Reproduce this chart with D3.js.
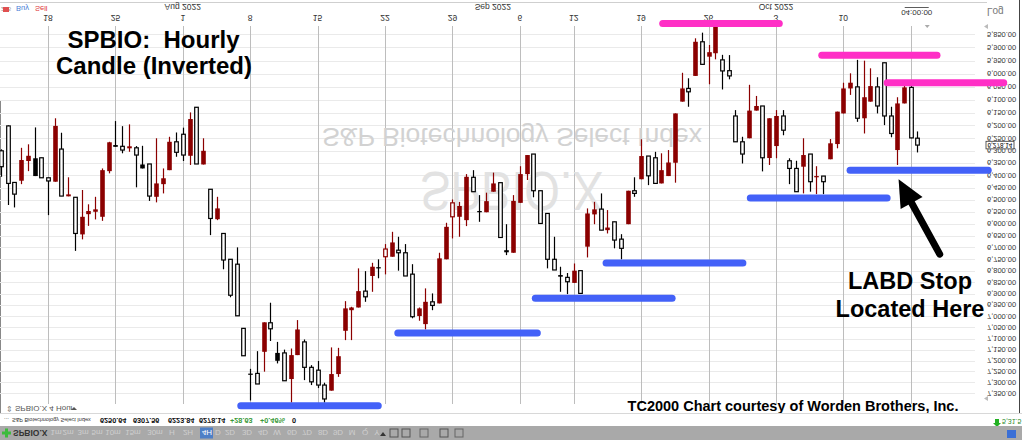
<!DOCTYPE html>
<html><head><meta charset="utf-8">
<script src="https://cdn.jsdelivr.net/npm/d3@7"></script>
<style>
body{margin:0;background:#fff;}
svg{display:block;font-family:"Liberation Sans",Arial,sans-serif;}
</style>
</head><body>
<svg id="c" width="1022" height="440"></svg>
<script>
// ---- data (4-hour candles, SPBIO, Jul 14 – Oct 17 2022) ----
const opens=[6301,6202,6429,6422,6342,6403,6329,6410,6426,6294,6486,6490,6645,6560,6550,6571,6383,6285,6283,6291,6289,6372,6354,6488,6436,6379,6265,6235,6321,6129,6356,6457,6581,6641,6751,6772,7054,7264,7259,7160,7029,7201,7165,7285,7175,7115,7231,7244,7313,7339,7262,7065,6973,6961,6889,6823,6789,6707,6740,6712,6723,6815,6999,7035,6936,6943,6751,6513,6571,6585,6408,6551,6552,6467,6430,6721,6723,6513,6395,6314,6463,6557,6751,6826,6829,6853,6800,6697,6561,6539,6627,6592,6665,6602,6463,6416,6322,6329,6433,6403,6349,6107,6056,6008,5879,5935,5922,5947,5988,6163,6265,6251,6142,6124,6330,6282,6163,6341,6372,6365,6314,6408,6403,6335,6274,6153,6056,6050,6172,6107,6050,5958,6163,6298,6114,6052,6250.64];
const highs=[6406,6522,6532,6436,6383,6403,6410,6564,6426,6485,6486,6715,6666,6609,6582,6588,6392,6285,6311,6305,6449,6372,6505,6511,6474,6379,6325,6342,6358,6354,6356,6648,6585,6794,6916,6998,7178,7385,7308,7251,7111,7213,7293,7395,7175,7290,7313,7327,7395,7339,7275,7107,7107,6961,6936,6892,6833,6816,6740,6800,6823,7009,7020,7059,6973,6943,6751,6662,6655,6610,6467,6592,6552,6467,6658,6733,6723,6513,6419,6490,6599,6790,6797,6892,6902,6853,6899,6743,6602,6627,6641,6704,6751,6602,6488,6416,6440,6433,6433,6403,6430,6107,6127,6008,5964,6040,5945,6060,6021,6265,6352,6251,6142,6384,6358,6331,6239,6436,6467,6474,6467,6477,6477,6335,6291,6153,6081,6186,6232,6107,6153,6199,6247,6358,6114,6251,6307.56];
const lows=[6295,6200,6429,6289,6275,6208,6329,6410,6172,6229,6408,6490,6460,6519,6488,6372,6265,6183,6203,6196,6282,6281,6354,6251,6372,6245,6228,6209,6149,6129,6251,6457,6488,6641,6751,6700,7054,7238,7157,7027,6940,7115,7150,7145,7017,7104,7221,7202,7302,7140,7142,6933,6958,6790,6802,6766,6751,6686,6634,6655,6686,6772,6961,6877,6899,6723,6596,6499,6509,6395,6379,6481,6471,6389,6430,6602,6481,6363,6318,6314,6463,6557,6655,6783,6810,6769,6800,6536,6509,6474,6543,6592,6644,6463,6408,6255,6322,6305,6311,6298,6153,5996,6017,5866,5845,5891,5816,5928,5929,6140,6245,6042,6085,6124,6172,6140,6140,6331,6341,6251,6314,6363,6403,6254,6146,6034,5998,5947,5950,5979,6013,5958,6127,6090,6036,6040,6223.84];
const closes=[6365,6433,6477,6338,6321,6331,6410,6423,6202,6485,6478,6641,6571,6547,6540,6379,6267,6278,6298,6283,6318,6356,6485,6433,6412,6265,6307,6318,6175,6354,6301,6578,6536,6754,6907,6998,7178,7260,7308,7027,7056,7165,7293,7175,7059,7231,7298,7313,7378,7262,7180,6965,6961,6889,6914,6783,6785,6740,6679,6723,6823,7002,6965,6936,6952,6747,6613,6571,6526,6406,6467,6547,6506,6433,6658,6712,6505,6395,6318,6463,6599,6751,6797,6819,6848,6800,6899,6557,6540,6627,6616,6669,6704,6463,6474,6322,6402,6433,6379,6348,6153,6056,6069,5879,5964,5918,5823,5989,6008,6265,6314,6142,6124,6329,6172,6163,6219,6372,6467,6318,6426,6403,6426,6271,6146,6056,6034,6172,6090,6047,6124,6163,6232,6114,6052,6249.51,6278.14];

const dayTickIdx=[7,17,27,37,47,57,67,77,85,95,105,115,125];
const dayTickLabels=["18","25","1","8","15","22","29","6","12","19","26","3","10"];
const monthIdx=[27,73,115];
const monthLabels=["Aug 2022","Sep 2022","Oct 2022"];
const cursorIdx=135, cursorLabel="04:00:00";
const priceTicks=d3.range(5850,7351,50);

// support (blue) and resistance (pink) levels: price, from index, to index
const blueLevels=[7410,7075,6920,6767,6493,6379];
const blueFrom=[35.6,58.9,79.3,89.8,111.2,126];
const blueTo=[56,79.6,99.6,110.1,131.5,146.5];
const pinkLevels=[5811,5930,6034];
const pinkFrom=[98.2,121.8,131.5];
const pinkTo=[115.5,138.9,148.8];
const arrowTip=[133.2,6416], arrowTail=[139.3,6729];

const infoValues=["6250.64","6307.56","6223.84","6278.14","+28.63","+0.46%","0"];
const intervals=["1m","2m","3m","5m","10m","15m","30m","H","2H","4H","D","2D","3D","4D","W","6D","7D","8D","9D","M","Q","Y"];

// ---- scales ----
const svg=d3.select("#c");
const x=d3.scaleLinear().domain([0,opens.length-1]).range([0.82,917.46]);
const y=d3.scaleLog().domain([5850,7350]).range([34,393]);
const PLOT_R=975;

function ftext(g,px,py,str){ // vertically flipped text (chart is inverted)
  return g.append("text").attr("transform",`translate(${px},${py}) scale(1,-1)`).text(str);
}

// borders
svg.append("line").attr("x1",0).attr("x2",987).attr("y1",2.5).attr("y2",2.5).attr("stroke","#cfcfcf");
svg.append("line").attr("x1",1019.5).attr("x2",1019.5).attr("y1",0).attr("y2",414).attr("stroke","#444");
svg.append("line").attr("x1",0.5).attr("x2",0.5).attr("y1",100).attr("y2",413).attr("stroke","#888");

// horizontal grid
svg.append("g").selectAll("line").data(priceTicks).join("line")
  .attr("x1",0).attr("x2",PLOT_R).attr("y1",d=>Math.round(y(d))+0.5).attr("y2",d=>Math.round(y(d))+0.5)
  .attr("stroke","#eaeaea");
// vertical grid
svg.append("g").selectAll("line").data(dayTickIdx.concat([cursorIdx])).join("line")
  .attr("x1",d=>Math.round(x(d))+0.5).attr("x2",d=>Math.round(x(d))+0.5).attr("y1",26).attr("y2",404)
  .attr("stroke","#bdbdbd");

// watermarks
const wm=svg.append("g");
ftext(wm,322,128,"S&P Biotechnology Select Index").attr("font-size",26).attr("fill","#d2d2d2").attr("textLength",380).attr("lengthAdjust","spacingAndGlyphs");
ftext(wm,420,172,"SPBIO.X").attr("font-size",56).attr("fill","#e2e2e2").attr("textLength",183).attr("lengthAdjust","spacingAndGlyphs");

// y-axis labels
const ya=svg.append("g").attr("font-size",7.5).attr("fill","#333");
priceTicks.forEach(p=>{ ftext(ya,987,y(p),d3.format(",.2f")(p)).attr("dominant-baseline","central"); });
ftext(svg,987,8,"Log").attr("font-size",10).attr("fill","#777");
svg.append("path").attr("d","M988,24 l-4,2.5 l4,2.5z").attr("fill","#bbb");
svg.append("path").attr("d","M988,396 l-4,2.5 l4,2.5z").attr("fill","#bbb");
// current price box
const lastY=y(closes[closes.length-1]);
svg.append("rect").attr("x",986).attr("y",lastY-3.8).attr("width",28).attr("height",7.6).attr("fill","#fff").attr("stroke","#333").attr("stroke-width",0.8);
ftext(svg,987.5,lastY,d3.format(",.2f")(closes[closes.length-1])).attr("font-size",6.4).attr("dominant-baseline","central").attr("fill","#000");

// date labels
const da=svg.append("g").attr("font-size",8.5).attr("fill","#333").attr("text-anchor","middle");
dayTickIdx.forEach((d,i)=>ftext(da,x(d),14.5,dayTickLabels[i]));
monthIdx.forEach((d,i)=>ftext(da,x(d),4,monthLabels[i]));
ftext(da,x(cursorIdx)+6,9.5,cursorLabel).attr("font-size",8);
svg.append("line").attr("x1",x(cursorIdx)-6).attr("x2",x(cursorIdx)+18).attr("y1",7.5).attr("y2",7.5).attr("stroke","#333").attr("stroke-width",0.8);
svg.append("path").attr("d",`M${x(cursorIdx)+14},25 l5,0 l-2.5,3z`).attr("fill","#aaa");

// top-left buttons
ftext(svg,1,6.5,"255").attr("font-size",6).attr("fill","#999");
svg.append("rect").attr("x",3).attr("y",7).attr("width",6).attr("height",5).attr("fill","#e05050");
ftext(svg,16,6,"Buy").attr("font-size",7.5).attr("fill","#4a7fd8");
ftext(svg,35,6,"Sell").attr("font-size",7.5).attr("fill","#e04040");

// candles
const cg=svg.append("g");
const bw=4.6;
opens.forEach((o,i)=>{
  const c=closes[i], h=highs[i], l=lows[i];
  const col=(i===0||c>=closes[i-1])?"#000":"#8b0000";
  const filled=c<o;
  const cx=Math.round(x(i))+0.5;
  cg.append("line").attr("x1",cx).attr("x2",cx).attr("y1",y(l)).attr("y2",y(h)).attr("stroke",col).attr("stroke-width",1.2);
  const top=y(Math.min(o,c)), bot=y(Math.max(o,c));
  const ht=Math.max(bot-top,1.2);
  if(filled){
    cg.append("rect").attr("x",cx-bw/2).attr("y",top).attr("width",bw).attr("height",ht).attr("fill",col);
  } else {
    cg.append("rect").attr("x",cx-bw/2+0.5).attr("y",top).attr("width",bw-1).attr("height",ht).attr("fill","#fff").attr("stroke",col).attr("stroke-width",1.2);
  }
});

// level lines
const lv=svg.append("g").attr("stroke-linecap","round").attr("stroke-width",7);
blueLevels.forEach((p,i)=>lv.append("line").attr("x1",x(blueFrom[i])).attr("x2",x(blueTo[i])).attr("y1",y(p)).attr("y2",y(p)).attr("stroke","#4361f8"));
pinkLevels.forEach((p,i)=>lv.append("line").attr("x1",x(pinkFrom[i])).attr("x2",x(pinkTo[i])).attr("y1",y(p)).attr("y2",y(p)).attr("stroke","#ff2fc6"));

// arrow
(function(){
  const tx=x(arrowTip[0]), ty=y(arrowTip[1]), ex=x(arrowTail[0]), ey=y(arrowTail[1]);
  const dx=tx-ex, dy=ty-ey, len=Math.hypot(dx,dy), ux=dx/len, uy=dy/len;
  const hl=27, hw=12.5;
  const bx=tx-ux*hl, by=ty-uy*hl, nx=-uy, ny=ux;
  svg.append("line").attr("x1",ex).attr("y1",ey).attr("x2",bx+ux*3).attr("y2",by+uy*3).attr("stroke","#000").attr("stroke-width",7).attr("stroke-linecap","round");
  svg.append("path").attr("d",`M${tx},${ty}L${bx+nx*hw},${by+ny*hw}L${bx-nx*hw},${by-ny*hw}Z`).attr("fill","#000");
})();

// annotations
const an=svg.append("g").attr("font-weight","bold").attr("fill","#000").attr("text-anchor","middle");
an.append("text").attr("x",153.5).attr("y",47.5).attr("font-size",24).style("white-space","pre").text("SPBIO:  Hourly");
an.append("text").attr("x",154).attr("y",74).attr("font-size",24).text("Candle (Inverted)");
an.append("text").attr("x",910).attr("y",289).attr("font-size",23.5).text("LABD Stop");
an.append("text").attr("x",910).attr("y",317).attr("font-size",23.5).text("Located Here");
an.append("text").attr("x",793).attr("y",410.5).attr("font-size",14.5).text("TC2000 Chart courtesy of Worden Brothers, Inc.");

// bottom panel
svg.append("line").attr("x1",0).attr("x2",1022).attr("y1",413.5).attr("y2",413.5).attr("stroke","#d8d8d8");
ftext(svg,15,405.5,"SPBIO.X 4 Hour").attr("font-size",8).attr("fill","#555");
ftext(svg,6,405.5,"⇕").attr("font-size",8).attr("fill","#777");
svg.append("path").attr("d","M71,410 l3,-3 l3,3z").attr("fill","#555");
ftext(svg,4,418,"...").attr("font-size",6).attr("fill","#333");
ftext(svg,12,418,"S&P Biotechnology Select Index").attr("font-size",5.5).attr("fill","#333");
const infoX=[100,133,168,199,230,260,292];
infoValues.forEach((v,i)=>ftext(svg,infoX[i],417.5,v).attr("font-size",7.3).attr("font-weight","bold")
  .attr("fill",(i===4||i===5)?"#3a9a3a":"#111"));
svg.append("path").attr("d","M995,419 l4,0 l0,4 l2,0 l-4,4 l-4,-4 l2,0z").attr("fill","#22b022");
ftext(svg,1002,419,"5,31.5").attr("font-size",7).attr("fill","#2a8a2a");

// toolbar
svg.append("rect").attr("x",0).attr("y",426).attr("width",1022).attr("height",14).attr("fill","#a9a9a9");
svg.append("path").attr("d","M5,428.5h3v3h3v3h-3v3h-3v-3h-3v-3h3z").attr("fill","#3dbb3d");
ftext(svg,13,429.5,"SPBIO.X").attr("font-size",8.5).attr("font-weight","bold").attr("fill","#333");
const intX=[56,68,83,97,113,133,155,172,188,207,218,230,247,263,277,292,307,323,338,352,365,377];
svg.append("rect").attr("x",200).attr("y",427.5).attr("width",13).attr("height",11).attr("fill","#4f7fc6");
intervals.forEach((t,i)=>ftext(svg,intX[i],429.5,t).attr("font-size",8).attr("text-anchor","middle")
  .attr("fill",t==="4H"?"#fff":"#cfcfcf"));
svg.append("path").attr("d","M380,436 l3,-4 l3,4z").attr("fill","#333");
[[390,"#555"],[402,"#555"],[420,"#666"],[440,"#555"],[455,"#666"]].forEach(([px,c])=>
  svg.append("rect").attr("x",px).attr("y",429).attr("width",8).attr("height",8).attr("fill","none").attr("stroke",c));
svg.append("rect").attr("x",1007).attr("y",430).attr("width",9).attr("height",8).attr("fill","#3a6fd6");
</script>
</body></html>
